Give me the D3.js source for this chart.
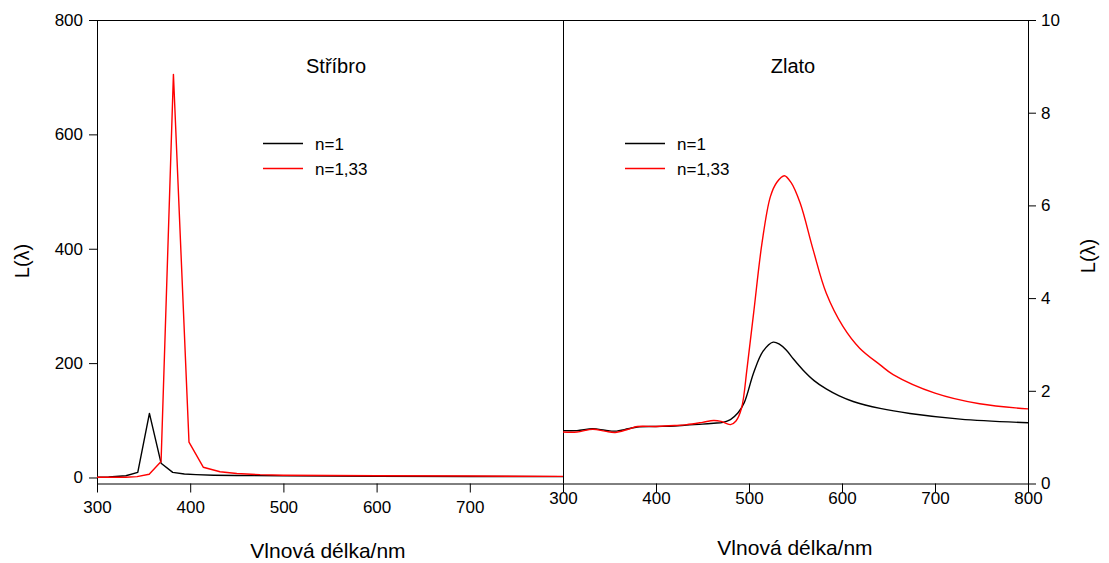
<!DOCTYPE html>
<html>
<head>
<meta charset="utf-8">
<title>Stříbro / Zlato</title>
<script src="https://d3js.org/d3.v7.min.js"></script>
<style>
  body { margin: 0; background: #fff; }
  svg text { font-family: "Liberation Sans", Arial, sans-serif; fill: #000; }
  .axis path, .axis line { stroke: #000; stroke-width: 1; }
</style>
</head>
<body>
<svg width="1109" height="563"></svg>
<script>
// silver (left panel)
const agWave  = [300, 312.5, 331, 343.75, 356.25, 368.75, 381.25, 393.75, 406.25, 425, 450, 500, 550, 600, 700, 800];
const agN1    = [0.5, 0.8, 3, 9, 112, 25, 9, 6, 5, 4, 3.5, 3, 2.5, 2.2, 1.8, 1.5];
const agWave2 = [300, 331, 343, 356, 368.75, 382, 398.7, 414, 432, 450, 475, 500, 550, 600, 700, 800];
const agN133  = [0.5, 0.5, 1.5, 5.6, 28, 705, 62, 18, 10, 7, 5, 4, 3.5, 3, 2.5, 2];

// gold (right panel)
const auWave  = [300, 315, 332, 345, 356, 370, 380, 400, 420, 433, 450, 462, 472, 480, 488, 495, 505, 515, 526, 533, 540, 548, 558, 570, 583, 597, 612, 641, 673, 727, 800];
const auN1    = [1.14, 1.14, 1.18, 1.15, 1.13, 1.18, 1.22, 1.23, 1.24, 1.26, 1.28, 1.30, 1.32, 1.38, 1.52, 1.75, 2.39, 2.85, 3.05, 3.0, 2.88, 2.68, 2.45, 2.22, 2.04, 1.89, 1.77, 1.62, 1.51, 1.39, 1.31];
const auWave2 = [300, 315, 332, 345, 356, 370, 380, 400, 420, 433, 450, 462, 470, 480, 486, 492, 498, 505, 514, 523, 530, 538, 545, 555, 569, 583, 601, 619, 641, 655, 700, 748, 800];
const auN133  = [1.11, 1.11, 1.17, 1.13, 1.10, 1.17, 1.23, 1.23, 1.25, 1.27, 1.32, 1.36, 1.34, 1.27, 1.35, 1.63, 2.5, 3.68, 5.19, 6.19, 6.5, 6.64, 6.5, 6.05, 5.04, 4.11, 3.39, 2.92, 2.56, 2.35, 1.95, 1.72, 1.61];

const xTicksL = [300, 400, 500, 600, 700];
const xTicksR = [300, 400, 500, 600, 700, 800];
const yTicksL = [0, 200, 400, 600, 800];
const yTicksR = [0, 2, 4, 6, 8, 10];

const svg = d3.select("svg");
const plotTop = 20, plotBottom = 483.5;
const plotLeft = 97, plotMid = 563, plotRight = 1028;

const xL = d3.scaleLinear().domain([300, 800]).range([plotLeft, plotMid]);
const yL = d3.scaleLinear().domain([-10.5, 800]).range([plotBottom, plotTop]);
const xR = d3.scaleLinear().domain([300, 800]).range([plotMid, plotRight]);
const yR = d3.scaleLinear().domain([0, 10]).range([plotBottom, plotTop]);

// axes
svg.append("g").attr("class", "axis")
  .attr("transform", "translate(0," + plotBottom + ")")
  .call(d3.axisBottom(xL).tickValues(xTicksL).tickSize(9).tickPadding(8).tickSizeOuter(0))
  .selectAll("text").style("font-size", "17px");

svg.append("g").attr("class", "axis")
  .attr("transform", "translate(0," + plotBottom + ")")
  .call(d3.axisBottom(xR).tickValues(xTicksR).tickSize(9).tickPadding(-1).tickSizeOuter(0))
  .selectAll("text").style("font-size", "17px");

svg.append("g").attr("class", "axis")
  .attr("transform", "translate(" + plotLeft + ",0)")
  .call(d3.axisLeft(yL).tickValues(yTicksL).tickSize(8).tickPadding(6).tickSizeOuter(0))
  .selectAll("text").style("font-size", "17px");

svg.append("g").attr("class", "axis")
  .attr("transform", "translate(" + plotRight + ",0)")
  .call(d3.axisRight(yR).tickValues(yTicksR).tickSize(8).tickPadding(5).tickSizeOuter(0))
  .selectAll("text").style("font-size", "17px");

// frame
const frame = svg.append("g").attr("stroke", "#000").attr("stroke-width", 1);
frame.append("line").attr("x1", plotLeft).attr("x2", plotRight).attr("y1", plotTop + 0.5).attr("y2", plotTop + 0.5);
frame.append("line").attr("x1", plotMid + 0.5).attr("x2", plotMid + 0.5).attr("y1", plotTop).attr("y2", plotBottom);

// curves
const lineL = (xs) => d3.line().x((d, i) => xL(xs[i])).y(d => yL(d));
const lineR = (xs) => d3.line().x((d, i) => xR(xs[i])).y(d => yR(d)).curve(d3.curveCatmullRom.alpha(0.5));

function draw(pathGen, data, color) {
  svg.append("path").datum(data)
    .attr("d", pathGen)
    .attr("fill", "none")
    .attr("stroke", color)
    .attr("stroke-width", 1.4)
    .attr("stroke-linejoin", "round");
}
draw(lineL(agWave), agN1, "#000");
draw(lineL(agWave2), agN133, "#ff0000");
draw(lineR(auWave), auN1, "#000");
draw(lineR(auWave2), auN133, "#ff0000");

// titles
svg.append("text").attr("x", 336).attr("y", 73).attr("text-anchor", "middle")
  .style("font-size", "20px").text("Stříbro");
svg.append("text").attr("x", 793).attr("y", 73).attr("text-anchor", "middle")
  .style("font-size", "20px").text("Zlato");

// legends
function legend(x0, y0) {
  const items = [["n=1", "#000"], ["n=1,33", "#ff0000"]];
  items.forEach((it, i) => {
    const y = y0 + i * 25;
    svg.append("line").attr("x1", x0).attr("x2", x0 + 40).attr("y1", y).attr("y2", y)
      .attr("stroke", it[1]).attr("stroke-width", 1.4);
    svg.append("text").attr("x", x0 + 52).attr("y", y + 6)
      .style("font-size", "17px").text(it[0]);
  });
}
legend(263, 143.5);
legend(625, 143.5);

// axis titles
svg.append("text").attr("x", 328).attr("y", 558).attr("text-anchor", "middle")
  .style("font-size", "21px").text("Vlnová délka/nm");
svg.append("text").attr("x", 795).attr("y", 555).attr("text-anchor", "middle")
  .style("font-size", "21px").text("Vlnová délka/nm");
svg.append("text").attr("transform", "translate(29,261) rotate(-90)").attr("text-anchor", "middle")
  .style("font-size", "20px").text("L(λ)");
svg.append("text").attr("transform", "translate(1095,256) rotate(-90)").attr("text-anchor", "middle")
  .style("font-size", "20px").text("L(λ)");
</script>
</body>
</html>
